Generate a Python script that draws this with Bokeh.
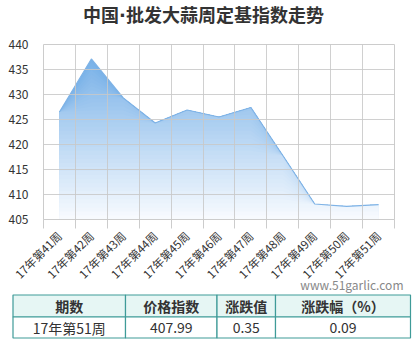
import math
import numpy as np
from bokeh.plotting import figure
from bokeh.models import Range1d, FixedTicker
from bokeh.embed import file_html
from bokeh.resources import INLINE
from bokeh.core.properties import value

# ---- data ----
weeks = ["17年第41周", "17年第42周", "17年第43周", "17年第44周", "17年第45周",
         "17年第46周", "17年第47周", "17年第48周", "17年第49周", "17年第50周",
         "17年第51周"]
index_values = [426.5, 437.1, 429.3, 424.3, 426.9, 425.5, 427.4, 417.8, 408.1, 407.64, 407.99]
y_ticks = [405, 410, 415, 420, 425, 430, 435, 440]

chart_title = "中国·批发大蒜周定基指数走势"
table_header = ["期数", "价格指数", "涨跌值", "涨跌幅（%）"]
table_row = ["17年第51周", "407.99", "0.35", "0.09"]
watermark = "www.51garlic.com"

FONT = "Noto Sans CJK SC"

xs = np.arange(1, len(weeks) + 1)
vals = np.array(index_values)
ymin, ymax = 405, 440

W, H = 414, 341
FL, FR, FT, FB = 43, 394, 44, 219   # frame edges in page pixels

p = figure(width=W, height=H, output_backend="svg", toolbar_location=None, title=None,
           x_range=Range1d(0.5, len(weeks) + 0.5), y_range=Range1d(ymin, ymax),
           min_border_left=FL, min_border_right=W - FR, min_border_top=FT,
           min_border_bottom=H - FB)
p.background_fill_color = "white"
p.border_fill_color = "white"
p.outline_line_color = "#cccccc"

# page-pixel ranges for title, watermark and table
p.extra_x_ranges = {"px": Range1d(FL, FR)}
p.extra_y_ranges = {"px": Range1d(FB, FT)}

# gradient area (stacked from top colour to light)
top_c = np.array([122, 178, 232])
bot_c = np.array([250, 252, 255])
N = 40
vmax = vals.max()
levels = np.linspace(ymin, vmax + 0.2, N + 1)
for k in range(N, 0, -1):
    t = (levels[k] - ymin) / (levels[-1] - ymin)
    c = bot_c + (top_c - bot_c) * t
    col = "#%02x%02x%02x" % tuple(int(round(v)) for v in c)
    p.varea(x=xs, y1=np.full(len(xs), ymin), y2=np.minimum(levels[k], vals),
            fill_color=col, fill_alpha=1.0)

p.line(xs, vals, line_color="#7fb3e6", line_width=1.2)

# axes
p.xaxis.ticker = FixedTicker(ticks=list(xs), minor_ticks=list(np.arange(0.5, len(weeks) + 1, 1.0)))
p.xaxis.major_label_overrides = {int(i): w for i, w in zip(xs, weeks)}
p.xaxis.major_label_orientation = math.pi / 4
p.xaxis.major_tick_line_color = None
p.xaxis.major_tick_out = 0
p.xaxis.minor_tick_line_color = "#cccccc"
p.xaxis.minor_tick_out = 9
p.xaxis.minor_tick_in = 0
p.xaxis.axis_line_color = "#cccccc"
p.xaxis.major_label_standoff = 5
p.xaxis.major_label_text_font = FONT
p.xaxis.major_label_text_font_size = "11.5px"
p.xaxis.major_label_text_color = "#333333"

p.yaxis.ticker = FixedTicker(ticks=y_ticks)
p.yaxis.axis_line_color = None
p.yaxis.major_tick_line_color = None
p.yaxis.minor_tick_line_color = None
p.yaxis.major_tick_out = 0
p.yaxis.major_label_standoff = 15
p.yaxis.major_label_text_font = FONT
p.yaxis.major_label_text_font_size = "12px"
p.yaxis.major_label_text_color = "#333333"

p.xgrid.grid_line_color = None
p.xgrid.minor_grid_line_color = "#c8c8c8"
p.xgrid.minor_grid_line_alpha = 0.85
p.ygrid.grid_line_color = "#c8c8c8"
p.ygrid.grid_line_alpha = 0.85
p.xgrid.level = "annotation"
p.ygrid.level = "annotation"

PX = dict(x_range_name="px", y_range_name="px", level="overlay")

# title
p.text(x=[203], y=[15], text=[chart_title], text_font=value("DejaVu Sans, " + FONT),
       text_font_size="18px", text_font_style="bold", text_color="#333333",
       text_align="center", text_baseline="middle", **PX)

# watermark
p.text(x=[403], y=[284], text=[watermark], text_font=value(FONT),
       text_font_size="12px", text_color="#888888",
       text_align="right", text_baseline="middle", **PX)

# table
col_edges = [12.5, 125, 216.5, 275, 410]
row_edges = [294.5, 316.5, 337.5]
teal = "#3f9b98"
lefts = col_edges[:-1]
rights = col_edges[1:]
p.quad(left=lefts, right=rights, top=[row_edges[0]] * 4, bottom=[row_edges[1]] * 4,
       fill_color="#e6f6f4", line_color=teal, line_width=1.2, **PX)
p.quad(left=lefts, right=rights, top=[row_edges[1]] * 4, bottom=[row_edges[2]] * 4,
       fill_color="white", line_color=teal, line_width=1.2, **PX)
centers = [(a + b) / 2 for a, b in zip(lefts, rights)]
p.text(x=centers, y=[(row_edges[0] + row_edges[1]) / 2] * 4, text=table_header,
       text_font=value(FONT), text_font_size="14px", text_font_style="bold",
       text_color="#333333", text_align="center", text_baseline="middle", **PX)
p.text(x=centers, y=[(row_edges[1] + row_edges[2]) / 2] * 4, text=table_row,
       text_font=value(FONT), text_font_size="14px",
       text_color="#333333", text_align="center", text_baseline="middle", **PX)

open("out.html", "w").write(file_html(p, INLINE))
